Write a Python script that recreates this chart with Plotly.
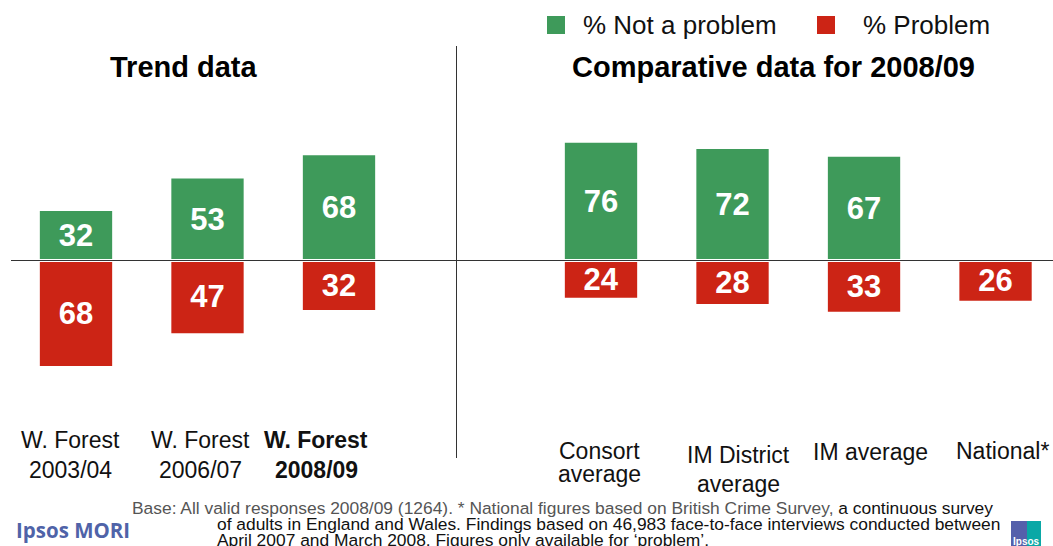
import plotly.graph_objects as go

W, H = 1053, 546
GREEN = "#3e9a5a"
RED = "#cc2415"

trend_cats = ["W. Forest 2003/04", "W. Forest 2006/07", "W. Forest 2008/09"]
trend_not_problem = [32, 53, 68]
trend_problem = [68, 47, 32]

comp_cats = ["Consort average", "IM District average", "IM average", "National*"]
comp_not_problem = [76, 72, 67, None]
comp_problem = [24, 28, 33, 26]

legend_labels = ["% Not a problem", "% Problem"]
titles = ["Trend data", "Comparative data for 2008/09"]

# text, centre x px, centre y px, bold
cat_labels = [
    ("W. Forest", 70, 440, False), ("2003/04", 70, 470, False),
    ("W. Forest", 200, 440, False), ("2006/07", 200, 470, False),
    ("W. Forest", 316, 440, True), ("2008/09", 316, 470, True),
    ("Consort", 599, 451, False), ("average", 599, 474, False),
    ("IM District", 738, 455, False), ("average", 738, 484, False),
    ("IM average", 870, 452, False),
    ("National*", 1002, 451, False),
]
foot = [
    ('<span style="color:#555555">Base: All valid responses 2008/09 (1264). * National figures based on British Crime Survey,</span> a continuous survey', 132, 508),
    ("of adults in England and Wales. Findings based on 46,983 face-to-face interviews conducted between", 217, 524),
    ("April 2007 and March 2008. Figures only available for ‘problem’.", 217, 539.5),
]

FONT = "Liberation Sans"
px = lambda v: v / W
py = lambda v: 1 - v / H

fig = go.Figure()


def add(cats, good, bad, xa):
    fig.add_bar(x=cats, y=good, text=[str(v) if v is not None else "" for v in good],
                marker_color=GREEN, name=legend_labels[0], xaxis=xa, yaxis="y",
                width=0.55, showlegend=False)
    fig.add_bar(x=cats, y=[-v for v in bad], text=[str(v) for v in bad],
                marker_color=RED, name=legend_labels[1], xaxis=xa, yaxis="y",
                width=0.55, showlegend=False)


add(trend_cats, trend_not_problem, trend_problem, "x")
add(comp_cats, comp_not_problem, comp_problem, "x2")
fig.update_traces(textposition="inside", insidetextanchor="middle", constraintext="none",
                  textangle=0, cliponaxis=False,
                  textfont=dict(family=FONT, size=31, color="white", weight="bold"),
                  marker_line_width=0)

ann = []
for t, x, y, b in cat_labels:
    ann.append(dict(text=t, x=px(x), y=py(y), xanchor="center", yanchor="middle",
                    font=dict(size=23, color="#111111", family=FONT, weight="bold" if b else "normal")))
ann.append(dict(text=titles[0], x=px(183.5), y=py(67), xanchor="center", yanchor="middle",
                font=dict(size=29, color="black", family=FONT, weight="bold")))
ann.append(dict(text=titles[1], x=px(773), y=py(67), xanchor="center", yanchor="middle",
                font=dict(size=29, color="black", family=FONT, weight="bold")))
ann.append(dict(text=legend_labels[0], x=px(583), y=py(25), xanchor="left", yanchor="middle",
                font=dict(size=26, color="#111111", family=FONT)))
ann.append(dict(text=legend_labels[1], x=px(863), y=py(25), xanchor="left", yanchor="middle",
                font=dict(size=26, color="#111111", family=FONT)))
for t, x, y in foot:
    ann.append(dict(text=t, x=px(x), y=py(y), xanchor="left", yanchor="middle",
                    font=dict(size=17.4, color="#111111", family=FONT)))
ann.append(dict(text="Ipsos MORI", x=px(16), y=py(530), xanchor="left", yanchor="middle",
                font=dict(size=20.5, color="#4f63a8", family="Open Sans", weight="bold")))
ann.append(dict(text="Ipsos", x=px(1026), y=py(541), xanchor="center", yanchor="middle",
                font=dict(size=10, color="white", family=FONT, weight="bold")))
for a in ann:
    a.update(xref="paper", yref="paper", showarrow=False, borderpad=0, borderwidth=0)


def rect(x0, y0, x1, y1, color):
    return dict(type="rect", xref="paper", yref="paper", x0=px(x0), x1=px(x1), y0=py(y0), y1=py(y1),
                fillcolor=color, line_width=0, layer="above")


def line(x0, y0, x1, y1, color, width):
    return dict(type="line", xref="paper", yref="paper", x0=px(x0), x1=px(x1), y0=py(y0), y1=py(y1),
                line=dict(color=color, width=width), layer="above")


shapes = [
    line(0, 260.5, W, 260.5, "white", 3),
    line(11, 260.5, W, 260.5, "#333333", 1),
    line(456.5, 46, 456.5, 458, "#333333", 1),
    rect(547, 16, 565, 34, GREEN),
    rect(817, 16, 835, 34, RED),
    rect(1011, 521, 1027, 546, "#5560ab"),
    rect(1027, 521, 1041, 546, "#0aa8a6"),
]

fig.update_layout(
    width=W, height=H, autosize=False, margin=dict(l=0, r=0, t=0, b=0),
    plot_bgcolor="white", paper_bgcolor="white", barmode="relative", showlegend=False,
    annotations=ann, shapes=shapes,
    xaxis=dict(domain=[px(10.25), px(404.75)], range=[-0.5, 2.5], type="category",
               categoryorder="array", categoryarray=trend_cats, showticklabels=False,
               showgrid=False, zeroline=False, showline=False, ticks=""),
    xaxis2=dict(domain=[px(535.25), 1], range=[-0.5, 3.437], type="category",
                categoryorder="array", categoryarray=comp_cats, showticklabels=False,
                showgrid=False, zeroline=False, showline=False, ticks="", anchor="y"),
    yaxis=dict(domain=[0, 1], range=[-184.2, 168.1], showticklabels=False, showgrid=False,
               zeroline=False, showline=False, ticks=""),
)
fig.write_html("out.html", config={"displayModeBar": False},
               post_script="document.body.style.margin='0';document.body.style.overflow='hidden';")
